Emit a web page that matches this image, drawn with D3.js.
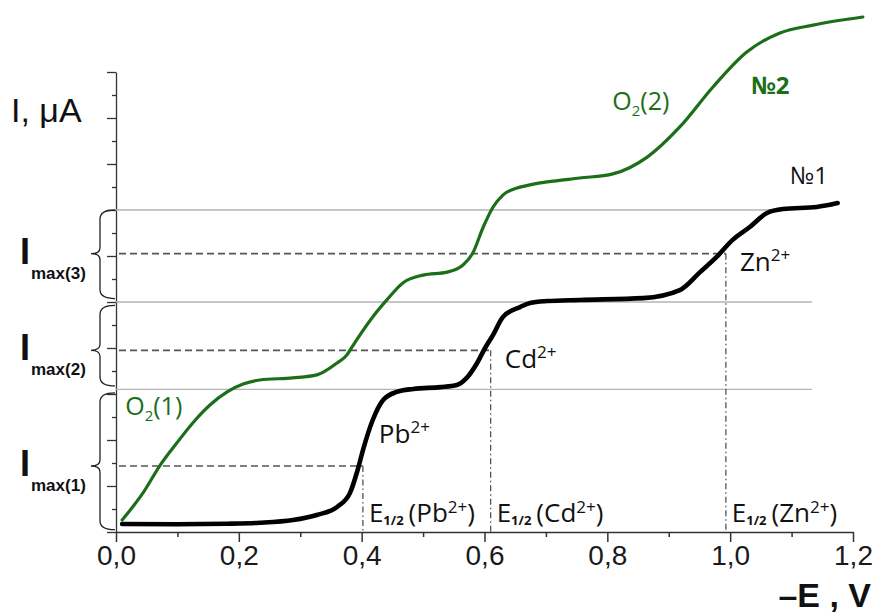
<!DOCTYPE html>
<html>
<head>
<meta charset="utf-8">
<script src="https://cdn.jsdelivr.net/npm/d3@7"></script>
<style>
  html, body { margin: 0; padding: 0; background: #fff; }
  svg { display: block; }
</style>
</head>
<body>
<svg id="chart" width="875" height="616"></svg>
<script>
// curve №1 : Pb, Cd, Zn waves (‑E in V, I in axis units)
const E1 = [0.01, 0.099, 0.181, 0.234, 0.288, 0.327, 0.36, 0.381, 0.394, 0.402,
  0.418, 0.435, 0.457, 0.484, 0.528, 0.555, 0.571, 0.588, 0.601, 0.614,
  0.63, 0.658, 0.674, 0.702, 0.755, 0.858, 0.918, 0.951, 0.978, 1.004,
  1.032, 1.06, 1.086, 1.141, 1.175];
const I1 = [0.35, 0.34, 0.36, 0.40, 0.52, 0.74, 1.09, 1.70, 2.75, 3.55,
  4.87, 5.74, 6.09, 6.22, 6.30, 6.39, 6.70, 7.35, 8.0, 8.57,
  9.35, 9.78, 9.96, 10.04, 10.09, 10.17, 10.52, 11.30, 11.96, 12.70,
  13.26, 13.87, 14.04, 14.13, 14.30];

// curve №2 : oxygen waves
const E2 = [0.01, 0.044, 0.072, 0.099, 0.125, 0.153, 0.181, 0.207, 0.234, 0.288,
  0.327, 0.36, 0.376, 0.381, 0.418, 0.441, 0.467, 0.5, 0.539, 0.565,
  0.581, 0.598, 0.614, 0.63, 0.653, 0.674, 0.702, 0.755, 0.809, 0.865,
  0.918, 0.972, 1.027, 1.081, 1.135, 1.216];
const I2 = [0.52, 1.70, 2.91, 3.87, 4.74, 5.52, 6.09, 6.43, 6.61, 6.70,
  6.83, 7.35, 7.70, 7.91, 9.35, 10.09, 10.83, 11.17, 11.30, 11.61,
  12.13, 13.26, 14.13, 14.65, 14.96, 15.09, 15.22, 15.39, 15.57, 16.30,
  17.61, 19.35, 20.87, 21.70, 22.04, 22.39];

const xTicks = d3.range(0, 13).map((i) => i / 10);
const yTicks = d3.range(0, 21);

// waves: ion, half-wave potential, half height
const ions = ['Pb', 'Cd', 'Zn'];
const halfWave = [0.402, 0.61, 0.993];
const iMax = [2.87, 7.9, 12.1];
// limiting currents and braces
const limits = [6.2, 10, 14];
const limitEnds = [1.133, 1.133, 1.07];
const braceLo = [0.1, 6.35, 10.15];
const braceHi = [6.05, 9.85, 14];

const svg = d3.select('#chart');
const x = d3.scaleLinear([0, 1.2], [116, 853]);
const y = d3.scaleLinear([0, 20], [532, 72]);
const fmt = d3.formatLocale({ decimal: ',', thousands: ' ', grouping: [3], currency: ['', ''] }).format('.1f');

const green = '#1c6e19';
const sans = "'Liberation Sans', Arial, sans-serif";
const open = "'Open Sans', 'DejaVu Sans', sans-serif";

// axes
const xAxis = svg.append('g')
  .attr('transform', `translate(0,${y(0)})`)
  .call(d3.axisBottom(x).tickValues(xTicks).tickSize(10).tickSizeOuter(0).tickPadding(3)
    .tickFormat((d, i) => (i % 2 ? '' : fmt(d))));
xAxis.selectAll('.tick line').attr('y2', (d, i) => (i % 2 ? 5 : 10));
xAxis.attr('font-size', 28).attr('font-family', sans);
xAxis.selectAll('text').attr('fill', '#1a1a1a');
xAxis.selectAll('path, line').attr('stroke', '#333').attr('stroke-width', 1.5);

const yAxis = svg.append('g')
  .attr('transform', `translate(${x(0)},0)`)
  .call(d3.axisLeft(y).tickValues(yTicks).tickSize(9).tickSizeOuter(0).tickFormat(''));
yAxis.selectAll('.tick line').attr('x2', (d) => (d % 2 ? -4 : -9));
yAxis.selectAll('path, line').attr('stroke', '#333').attr('stroke-width', 1.3);

// limiting current lines
svg.append('g')
  .selectAll('line')
  .data(limits)
  .join('line')
  .attr('x1', x(0))
  .attr('x2', (d, i) => x(limitEnds[i]))
  .attr('y1', (d) => y(d))
  .attr('y2', (d) => y(d))
  .attr('stroke', '#b3b3b3')
  .attr('stroke-width', 1.3);

// half-height and half-wave lines
const guides = svg.append('g').attr('stroke', '#555').attr('fill', 'none');
guides.selectAll('line.h')
  .data(iMax)
  .join('line')
  .attr('class', 'h')
  .attr('x1', x(0) + 3)
  .attr('x2', (d, i) => x(halfWave[i]))
  .attr('y1', (d) => y(d))
  .attr('y2', (d) => y(d))
  .attr('stroke-width', 1.7)
  .attr('stroke-dasharray', '7,4');
guides.selectAll('line.v')
  .data(halfWave)
  .join('line')
  .attr('class', 'v')
  .attr('x1', (d) => x(d))
  .attr('x2', (d) => x(d))
  .attr('y1', (d, i) => y(iMax[i]))
  .attr('y2', y(0))
  .attr('stroke-width', 1.3)
  .attr('stroke-dasharray', '6,3,1.5,3');

// curves
const line = d3.line()
  .x((d) => x(d[0]))
  .y((d) => y(d[1]))
  .curve(d3.curveMonotoneX);

svg.append('path')
  .datum(d3.zip(E2, I2))
  .attr('d', line)
  .attr('fill', 'none')
  .attr('stroke', green)
  .attr('stroke-width', 3.2)
  .attr('stroke-linecap', 'round');

svg.append('path')
  .datum(d3.zip(E1, I1))
  .attr('d', line)
  .attr('fill', 'none')
  .attr('stroke', '#000')
  .attr('stroke-width', 4.6)
  .attr('stroke-linecap', 'round');

// braces left of the axis
function brace(lo, hi, tip) {
  const x0 = x(0) - 1;
  const xv = x0 - 15;
  const xt = x0 - 24;
  const a = y(hi);
  const b = y(lo);
  const t = y(tip);
  return `M${x0},${a}Q${xv},${a} ${xv},${a + 9}L${xv},${t - 6}Q${xv},${t} ${xt},${t}`
    + `Q${xv},${t} ${xv},${t + 6}L${xv},${b - 9}Q${xv},${b} ${x0},${b}`;
}
svg.append('g')
  .selectAll('path')
  .data(iMax)
  .join('path')
  .attr('d', (d, i) => brace(braceLo[i], braceHi[i], d))
  .attr('fill', 'none')
  .attr('stroke', '#222')
  .attr('stroke-width', 1.3);

// I max(n) labels
const imaxLabels = svg.append('g').attr('font-family', sans).attr('fill', '#111').attr('font-weight', 'bold');
imaxLabels.selectAll('text.big')
  .data(iMax)
  .join('text')
  .attr('class', 'big')
  .attr('x', 20)
  .attr('y', (d) => y(d) + 10)
  .attr('font-size', 36)
  .text('I');
imaxLabels.selectAll('text.sub')
  .data(iMax)
  .join('text')
  .attr('class', 'sub')
  .attr('x', 31)
  .attr('y', (d) => y(d) + 25)
  .attr('font-size', 17)
  .text((d, i) => `max(${i + 1})`);

// axis titles
svg.append('text')
  .attr('x', 11)
  .attr('y', 122)
  .attr('font-family', sans)
  .attr('font-size', 34)
  .attr('fill', '#111')
  .text('I, μA');
svg.append('text')
  .attr('x', 871)
  .attr('y', 607)
  .attr('text-anchor', 'end')
  .attr('font-family', sans)
  .attr('font-size', 34)
  .attr('font-weight', 'bold')
  .attr('fill', '#111')
  .text('–E , V');

// ion labels with superscript charge
function ionText(px, py, base, color) {
  const t = svg.append('text')
    .attr('x', px)
    .attr('y', py)
    .attr('font-family', open)
    .attr('font-size', 26)
    .attr('fill', color);
  t.append('tspan').text(base);
  t.append('tspan').attr('font-size', 17).attr('dy', -10).text('2+');
  return t;
}
ionText(x(0.428), y(3.87), 'Pb', '#111');
ionText(x(0.633), y(7.15), 'Cd', '#111');
ionText(x(1.016), y(11.35), 'Zn', '#111');

// half-wave potential labels
halfWave.forEach((e, i) => {
  const t = svg.append('text')
    .attr('x', x(e) + 6)
    .attr('y', y(0.43))
    .attr('font-family', open)
    .attr('font-size', 26)
    .attr('fill', '#111');
  t.append('tspan').text('E');
  t.append('tspan').attr('font-size', 13).attr('font-weight', 'bold').attr('dy', 3).text('1/2');
  t.append('tspan').attr('dx', 5).attr('dy', -3).text(`(${ions[i]}`);
  t.append('tspan').attr('font-size', 17).attr('dy', -9).text('2+');
  t.append('tspan').attr('dy', 9).text(')');
});

// curve names
function o2Text(px, py, n) {
  const t = svg.append('text')
    .attr('x', px)
    .attr('y', py)
    .attr('font-family', open)
    .attr('font-size', 25)
    .attr('fill', green);
  t.append('tspan').text('O');
  t.append('tspan').attr('font-size', 15).attr('dy', 6).text('2');
  t.append('tspan').attr('dy', -6).text(`(${n})`);
}
o2Text(x(0.015), y(5.1), 1);
o2Text(x(0.808), y(18.35), 2);

svg.append('text')
  .attr('x', x(1.097))
  .attr('y', y(15.15))
  .attr('font-family', open)
  .attr('font-size', 24)
  .attr('fill', '#111')
  .text('№1');
svg.append('text')
  .attr('x', x(1.034))
  .attr('y', y(19.05))
  .attr('font-family', open)
  .attr('font-size', 24)
  .attr('font-weight', 'bold')
  .attr('fill', green)
  .text('№2');
</script>
</body>
</html>
